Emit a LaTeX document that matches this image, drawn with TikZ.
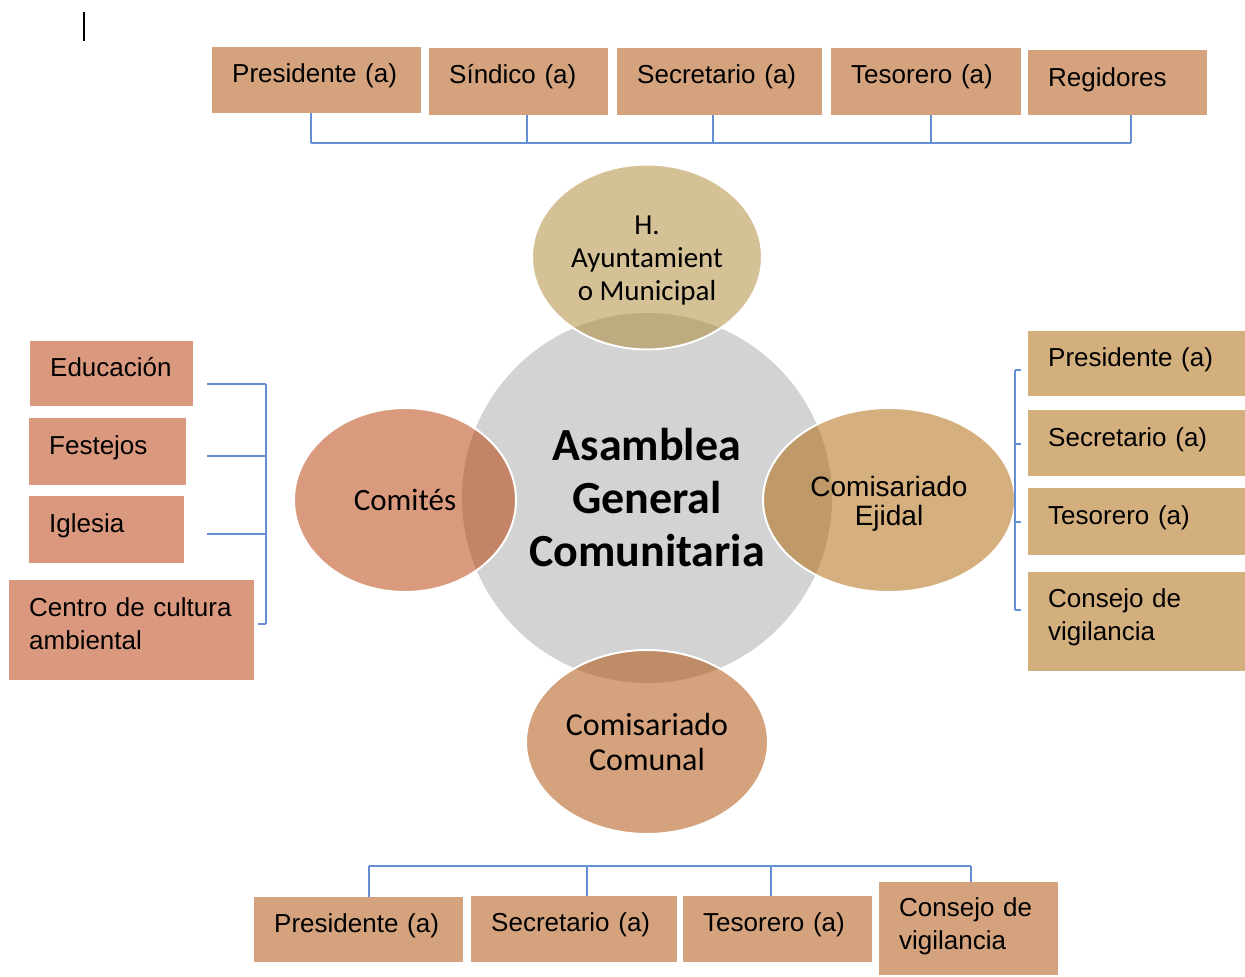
\documentclass[tikz,border=0pt]{standalone}
\usepackage{fontspec}
\setmainfont{Liberation Sans}
\newfontfamily\carlito{Carlito}
\usetikzlibrary{shapes.geometric}
\definecolor{boxT}{RGB}{212,163,126}
\definecolor{boxL}{RGB}{218,153,126}
\definecolor{boxR}{RGB}{212,175,126}
\definecolor{grayc}{RGB}{211,211,211}
\definecolor{ellT}{RGB}{174,136,53}
\definecolor{ellL}{RGB}{184,61,7}
\definecolor{ellR}{RGB}{174,101,7}
\definecolor{ellB}{RGB}{172,76,3}
\definecolor{linec}{RGB}{100,143,212}
\begin{document}
\begin{tikzpicture}[x=1pt,y=-1pt,
  box/.style={rectangle, inner xsep=20pt, inner ysep=0pt, anchor=north west, align=left,
    text height=35pt, font=\fontsize{26}{33}\selectfont},
  conn/.style={draw=linec, line width=1.4pt},
  ell/.style={ellipse, inner sep=0pt, draw=white, line width=2pt, fill opacity=0.52,
    text opacity=1, align=center}
]
\useasboundingbox (0,0) rectangle (1245,977);
% cursor mark
\draw[line width=2pt] (84,12) -- (84,41);
% centre
\node[circle, fill=grayc, minimum size=370pt, inner sep=0pt, align=center,
  font=\carlito\bfseries\fontsize{46}{53}\selectfont] (ag) at (647,498)
  {Asamblea\\General\\Comunitaria};
\node[ell, fill=ellT, minimum width=230pt, minimum height=185pt, text height=88pt, text depth=2pt,
  font=\carlito\fontsize{29}{33}\selectfont] (ha) at (647,257) {H.\\Ayuntamient\\o Municipal};
\node[ell, fill=ellL, minimum width=222pt, minimum height=184pt,
  font=\carlito\fontsize{31}{34}\selectfont] (co) at (405,500) {Comités};
\node[ell, fill=ellR, minimum width=252pt, minimum height=184pt, text height=52pt, text depth=2pt,
  font=\fontsize{28}{29}\selectfont] (ce) at (889,500) {Comisariado\\Ejidal};
\node[ell, fill=ellB, minimum width=242pt, minimum height=184pt,
  font=\carlito\fontsize{32}{35}\selectfont] (cc) at (647,742) {Comisariado\\Comunal};
% top row
\node[box, fill=boxT, text width=169pt, text depth=31pt] (tp1) at (212,47) {Presidente (a)};
\node[box, fill=boxT, text width=139pt, text depth=32pt] (tp2) at (429,48) {Síndico (a)};
\node[box, fill=boxT, text width=165pt, text depth=32pt] (tp3) at (617,48) {Secretario (a)};
\node[box, fill=boxT, text width=150pt, text depth=32pt] (tp4) at (831,48) {Tesorero (a)};
\node[box, fill=boxT, text width=139pt, text height=36pt, text depth=29pt] (tp5) at (1028,50) {Regidores};
\coordinate (tb1) at (311,143);
\coordinate (tb2) at (527,143);
\coordinate (tb3) at (713,143);
\coordinate (tb4) at (931,143);
\coordinate (tb5) at (1131,143);
\draw[conn] (tb1) -- (tb5);
\foreach \c/\n in {tb1/tp1,tb2/tp2,tb3/tp3,tb4/tp4,tb5/tp5}
  \draw[conn] (\c) -- (\c |- \n.south);
% left group
\node[box, fill=boxL, text width=123pt, text depth=30pt] (l1) at (30,341) {Educación};
\node[box, fill=boxL, text width=117pt, text height=36pt, text depth=31pt] (l2) at (29,418) {Festejos};
\node[box, fill=boxL, text width=115pt, text height=36pt, text depth=31pt] (l3) at (29,496) {Iglesia};
\node[box, fill=boxL, text width=205pt, text height=36pt, text depth=64pt] (l4) at (9,580) {Centro de cultura\\ambiental};
\coordinate (lb1) at (266,384);
\coordinate (lb2) at (266,456);
\coordinate (lb3) at (266,534);
\coordinate (lb4) at (266,624);
\draw[conn] (lb1) -- (lb4);
\draw[conn] (lb1) -- ++(-59,0);
\draw[conn] (lb2) -- ++(-59,0);
\draw[conn] (lb3) -- ++(-59,0);
\draw[conn] (lb4) -- ++(-8,0);
% right group
\node[box, fill=boxR, text width=177pt, text depth=30pt] (r1) at (1028,331) {Presidente (a)};
\node[box, fill=boxR, text width=177pt, text height=36pt, text depth=30pt] (r2) at (1028,410) {Secretario (a)};
\node[box, fill=boxR, text width=177pt, text height=36pt, text depth=31pt] (r3) at (1028,488) {Tesorero (a)};
\node[box, fill=boxR, text width=177pt, text depth=64pt] (r4) at (1028,572) {Consejo de\\vigilancia};
\coordinate (rb1) at (1015,370);
\coordinate (rb2) at (1015,444);
\coordinate (rb3) at (1015,522);
\coordinate (rb4) at (1015,610);
\draw[conn] (rb1) -- (rb4);
\foreach \c in {rb1,rb2,rb3,rb4} \draw[conn] (\c) -- ++(6,0);
% bottom group
\node[box, fill=boxT, text width=169pt, text depth=30pt] (b1) at (254,897) {Presidente (a)};
\node[box, fill=boxT, text width=166pt, text depth=31pt] (b2) at (471,896) {Secretario (a)};
\node[box, fill=boxT, text width=149pt, text depth=31pt] (b3) at (683,896) {Tesorero (a)};
\node[box, fill=boxT, text width=139pt, text height=34pt, text depth=59pt] (b4) at (879,882) {Consejo de\\vigilancia};
\coordinate (bb1) at (369,866);
\coordinate (bb2) at (587,866);
\coordinate (bb3) at (771,866);
\coordinate (bb4) at (971,866);
\draw[conn] (bb1) -- (bb4);
\foreach \c/\n in {bb1/b1,bb2/b2,bb3/b3,bb4/b4}
  \draw[conn] (\c) -- (\c |- \n.north);
\end{tikzpicture}
\end{document}
